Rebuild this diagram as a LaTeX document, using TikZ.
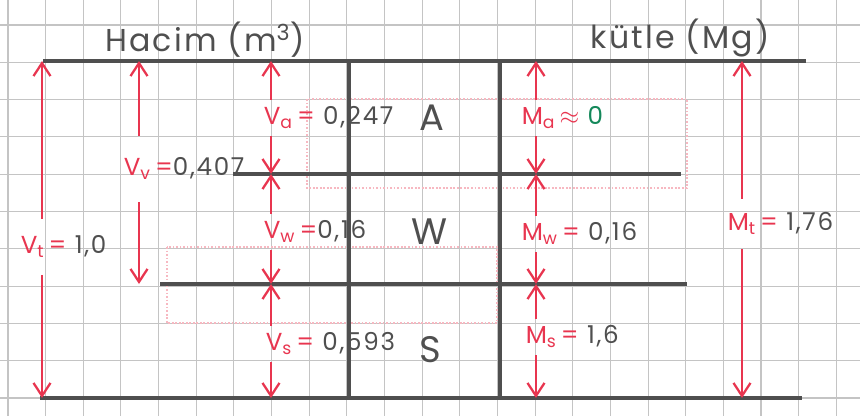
\documentclass[tikz,border=0pt]{standalone}
\usepackage{fontspec}
\setmainfont{Poppins}
\newfontfamily\hand[LetterSpace=7]{Poppins}
\usetikzlibrary{arrows.meta}
\definecolor{cred}{HTML}{E8354F}
\definecolor{cpencil}{HTML}{4F4F4F}
\definecolor{cgreen}{HTML}{14885A}
\definecolor{cgrid}{HTML}{C4C4C4}
\tikzset{
  every picture/.style={line width=1.2pt},
  pencil/.style={draw=cpencil, line width=1.8pt},
  dim/.style={-{Straight Barb[length=2.6mm, width=3.4mm]}, draw=cred, line width=1.3pt},
  sketch/.style={draw=cred!35, densely dotted, line width=1pt},
  qty/.style={anchor=west, text=cpencil, font=\hand\fontsize{14}{16}\selectfont, inner xsep=1pt, inner ysep=4pt, text height=9.5pt, text depth=2pt},
  head/.style={text=cpencil, font=\hand\fontsize{18}{20}\selectfont},
  phase/.style={text=cpencil, font=\fontsize{21}{24}\selectfont},
}
\newcommand{\sym}[3]{\textcolor{cred}{#1\textsubscript{#2}\,#3}}

\begin{document}
\begin{tikzpicture}[x=0.02cm, y=-0.02cm]
  \useasboundingbox (0,0) rectangle (860,416);
  % graph paper
  \foreach \x in {0,...,22}
    \draw[cgrid, line width=0.6pt] ({8+37.65*\x},0) -- ++(0,416);
  \foreach \y in {0,...,10}
    \draw[cgrid, line width=0.6pt] (0,{25+37.3*\y}) -- ++(860,0);
  % rough sketch boxes (faint)
  \draw[sketch] (307,99) rectangle (687,188);
  \draw[sketch] (167,247) rectangle (497,323);
  % phase diagram
  \draw[pencil] (43,61) -- (806,61);
  \draw[pencil] (233,174) -- (681,174);
  \draw[pencil] (160,284) -- (687,284);
  \draw[pencil] (40,398) -- (802,398);
  \draw[pencil] (349,61) -- (349,398);
  \draw[pencil] (500,61) -- (500,398);
  \node[head] (hacim) at (205,40) {Hacim (m\textsuperscript{3})};
  \node[head] (kutle) at (680,38) {kütle (Mg)};
  \node[phase] (air) at (432,118) {A};
  \node[phase] (water) at (430,232) {W};
  \node[phase] (solid) at (430,350) {S};
  % levels and arrow columns
  \coordinate (lv0) at (0,61);
  \coordinate (lv1) at (0,174);
  \coordinate (lv2) at (0,284);
  \coordinate (lv3) at (0,398);
  \coordinate (cvt) at (42,0);
  \coordinate (cvv) at (139,0);
  \coordinate (cv) at (271,0);
  \coordinate (cm) at (536,0);
  \coordinate (cmt) at (742,0);
  % volumes
  \node[qty, inner ysep=9.5pt] (vt) at (18,247) {\sym{V}{t}{=} 1,0};
  \node[qty, inner ysep=12.5pt] (vv) at (121,169) {\sym{V}{v}{=}0,407};
  \node[qty] (va) at (261,118) {\sym{V}{a}{=} 0,247};
  \node[qty] (vw) at (261,232) {\sym{V}{w}{=}0,16};
  \node[qty] (vs) at (263,344) {\sym{V}{s}{=} 0,593};
  % masses
  \node[qty] (ma) at (519,118) {\sym{M}{a}{$\approx$} \textcolor{cgreen}{0}};
  \node[qty] (mw) at (519,234) {\sym{M}{w}{=} 0,16};
  \node[qty] (ms) at (523,337) {\sym{M}{s}{=} 1,6};
  \node[qty, inner ysep=8pt] (mt) at (725,224) {\sym{M}{t}{=} 1,76};
  % dimension arrows
  \draw[dim] (vt.north -| cvt) -- (cvt |- lv0);
  \draw[dim] (vt.south -| cvt) -- (cvt |- lv3);
  \draw[dim] (vv.north -| cvv) -- (cvv |- lv0);
  \draw[dim] (vv.south -| cvv) -- (cvv |- lv2);
  \foreach \n/\a/\b in {va/lv0/lv1, vw/lv1/lv2, vs/lv2/lv3} {
    \draw[dim] (\n.north -| cv) -- (cv |- \a);
    \draw[dim] (\n.south -| cv) -- (cv |- \b);
  }
  \foreach \n/\a/\b in {ma/lv0/lv1, mw/lv1/lv2, ms/lv2/lv3} {
    \draw[dim] (\n.north -| cm) -- (cm |- \a);
    \draw[dim] (\n.south -| cm) -- (cm |- \b);
  }
  \draw[dim] (mt.north -| cmt) -- (cmt |- lv0);
  \draw[dim] (mt.south -| cmt) -- (cmt |- lv3);
\end{tikzpicture}
\end{document}
